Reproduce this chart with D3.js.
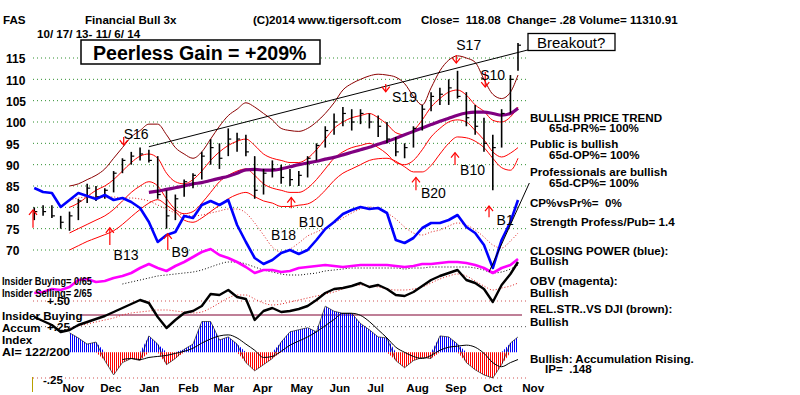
<!DOCTYPE html>
<html>
<head>
<meta charset="utf-8">
<script src="https://cdn.jsdelivr.net/npm/d3@7"></script>
<style>
body { margin: 0; background: #fff; }
svg text { font-family: Arial, "Liberation Sans", sans-serif; }
.lbl { font-weight: bold; font-size: 11.6px; fill: #000; }
.sig { font-size: 14px; fill: #000; }
</style>
</head>
<body>
<svg id="chart" width="800" height="395"></svg>
<script>
// weekly closes of FAS, 10/17/13 - 11/6/14
let weeks = ['2013-10-18','2013-10-25','2013-11-01','2013-11-08','2013-11-15','2013-11-22','2013-11-29',
    '2013-12-06','2013-12-13','2013-12-20','2013-12-27','2014-01-03','2014-01-10','2014-01-17','2014-01-24',
    '2014-01-31','2014-02-07','2014-02-14','2014-02-21','2014-02-28','2014-03-07','2014-03-14','2014-03-21',
    '2014-03-28','2014-04-04','2014-04-11','2014-04-18','2014-04-25','2014-05-02','2014-05-09','2014-05-16',
    '2014-05-23','2014-05-30','2014-06-06','2014-06-13','2014-06-20','2014-06-27','2014-07-04','2014-07-11',
    '2014-07-18','2014-07-25','2014-08-01','2014-08-08','2014-08-15','2014-08-22','2014-08-29','2014-09-05',
    '2014-09-12','2014-09-19','2014-09-26','2014-10-03','2014-10-10','2014-10-17','2014-10-24','2014-10-31','2014-11-06'];

let priceHigh = [80,80.5,80.5,78,79,82,85.5,85,84.5,88.5,91.5,93,94,93.5,92,84,83,86.5,88,93,96,95,98.5,97.5,97,92,89,91,
    90,89,88.5,92,95,99,102,103.5,103,103,102,101.5,100,96.5,95,99,104,107,108,110,112,107,104,101,97,103,111,118.5];
let priceLow = [77,78,77.5,75,74.5,77,81,81.5,82,83.5,88,90,91,90.5,82,75,77,82.5,84.5,86.5,90,89,92,93,92,82,83,87,
    85.5,85,85,87,91,94,97,99,98,99.5,98.5,96.5,95,92,91.5,94,98,102.5,104,104,105.5,99,97,93,84,94,102,112];
let priceClose = [79,79,78,76.5,78,81.5,84.5,82.5,84,88,91,92,92.5,91,83,78,82,86,87.5,92,94,91.5,96,96,93,84,88,89,
    87,86.5,87.5,91.5,94.5,98,100,102,100,102,100,99,96,93,94,98.5,103,106,106.5,108,106,101,99,95,94,102,110,118];

let ma65 = [null,null,null,null,null,null,null,null,null,null,null,null,null,83.5,83.8,84.2,84.6,85,85.5,85.8,86.3,
    86.8,87.3,88,88.8,88.9,88.7,88.7,89,89.5,90,90.4,90.8,91.3,91.7,92.3,92.9,93.5,94.1,94.8,95.4,96.2,97,97.8,98.6,
    99.4,100.2,100.9,101.6,102.1,102.3,102.3,102,101.6,102,103.2];
let maroonBand = [null,null,null,null,85,85.5,86.5,87.5,89,91.5,94,96.5,98,99.5,99.5,97,94,92.5,91.5,93,96,99,101.5,
    103,104.5,103.5,102,100.5,98.5,98,97.8,98.5,100,102,104.5,107.5,109,110,110.8,111.2,111,110.5,109,106,104,108,112,
    114.5,115.5,115,114,110,106.5,105.5,107,111];
let redUpper = [null,null,null,null,80,81,82.5,84,85,86.5,88.5,90.5,92,92.5,91.5,88,86,85.5,86.5,88.5,91,93,94.5,95.5,
    96,94.5,92.5,91.5,91,90.5,90.5,91.5,93.5,96,98.5,100,101,101.5,102,101,99.5,97.5,97,98,100.5,103.5,105.5,107,107.5,
    106.3,104,102.5,100.4,100,101.2,103.5];
let redLower = [null,null,null,null,74,75,76,77,78,79.5,81.5,83.5,85,86,85,82,79.5,78.5,79,81,83.5,86,87.5,88.5,89,
    87.5,85.5,84.5,84,83.5,83.5,84.5,86.5,89,91.5,93,94,94.5,95,94,92.5,90.5,90,91,93.5,96.5,98.5,100,100.5,100,98,
    95.8,93,91.8,92.7,94];
let redBottom = [null,null,null,null,70,71,72,72.8,73.6,74.5,76,77.8,79.5,81,81.8,80.5,79,77,76.5,77.5,79,80.5,82,83,
    83.5,82.5,81.5,81,80.2,80.2,80.5,80.8,82,84,86.3,88,89,90,91,91.4,91.5,90.8,89.5,88.3,88.3,89.8,92.5,95,96.5,96.3,
    95.5,94,91.5,89.3,88.7,91.5];

let closingPower = [87,83,82,68,75,82,79,76,80,75,77,73,67,53,33,40,43,59,57,70,74,70,75,50,33,17,11,15,22,25,21,25,
    35,46,53,61,65,68,66,67,62,35,32,37,47,52,52,55,60,48,42,30,7,35,53,75];
let closingPowerMa = [null,null,null,null,75,77,78,78,78,78,77,77,76,74,70,66,62,60,59,60,62,64,66,66,62,52,40,28,23,
    26,32,39,43,47,52,57,62,66,68,66,62,56,48,42,40,43,45,49,52,50,45,38,30,27,34,42];
let obv = [7,8,11,10,13,20,21,18,19,22,24,27,32,36,32,29,34,38,43,48,51,45,42,38,33,27,30,30,28,29,32,33,34,35,34,33,
    34,35,35,35,35,34,33,34,36,36,37,38,38,37,35,32,27,32,35,41];
let obvMa = [null,null,null,null,null,null,null,null,null,null,16,18,20,22,24,25,26,27,28,30,33,36,38,38,36,33,30,28,
    26,25,25,26,27,29,30,31,32,32,32,32,32,32,31,32,32,33,33,33,33,33,32,30,27,28,31,35];
let relStrength = [23,19,15,8,10,15,18,21,24,28,32,36,40,37,23,12,20,27,29,34,46,45,50,43,41,20,29,32,28,29,31,34,40,
    47,51,52,54,57,53,55,51,45,44,48,54,60,64,67,70,60,57,51,38,55,66,78];
let relStrengthMa = [null,null,null,null,12,14,16,18,20,22,25,27,28,29,30,30,29,28,27,28,32,37,42,45,45,41,37,35,36,
    38,40,42,44,46,48,51,54,55,54,53,51,50,50,51,53,57,61,64,66,64,59,54,50,52,54,57];
let accumIndex = [null,null,null,null,0.19,0.14,0.08,0.10,-0.08,-0.22,-0.10,-0.06,-0.08,0.16,0.08,-0.12,-0.06,0.03,
    0.08,0.30,0.30,0.12,0.15,0.08,-0.10,-0.18,-0.12,-0.06,0.10,0.20,0.22,0.24,0.20,0.45,0.40,0.38,0.38,0.28,0.22,0.15,
    0.14,-0.08,-0.15,-0.08,-0.05,-0.06,0.16,0.15,0.08,-0.10,-0.17,-0.22,-0.25,-0.12,0.09,0.15];
let accumIndexMa = [null,null,null,null,null,null,null,null,null,null,-0.07,-0.06,-0.07,-0.05,-0.04,-0.03,-0.01,0.01,
    0.04,0.09,0.13,0.16,0.17,0.14,0.08,0.02,-0.05,-0.04,0.01,0.07,0.11,0.15,0.20,0.26,0.32,0.38,0.38,0.36,0.30,0.22,
    0.14,0.05,0.00,-0.04,-0.06,-0.03,0.02,0.05,0.06,0.07,0.05,-0.01,-0.10,-0.14,-0.10,-0.07];

let priceTicks = [70, 75, 80, 85, 90, 95, 100, 105, 110, 115];

let trendDates = ['2014-01-17', '2014-11-14'];
let trendValues = [94.2, 116.9];
let cpTrendDates = ['2014-10-14', '2014-11-15'];
let cpTrendValues = [3, 92];

let arrowDates = ['2013-10-17','2013-12-17','2013-12-28','2014-02-01','2014-05-10','2014-07-24','2014-08-17',
    '2014-09-18','2014-09-17','2014-10-11','2014-10-14'];
let arrowFrom = [75.2, 71.2, 96.5, 70, 79.8, 108.9, 84, 115.7, 89.9, 111.7, 77.7];
let arrowTo = [79.4, 75.2, 94.6, 73.8, 82.3, 107.1, 87, 113.8, 92.8, 108.2, 80.3];

let signalNames = ['S16','B13','B9','B18','B10','S19','B20','S17','B10','S10','B1'];
let signalDates = ['2013-12-28','2013-12-20','2014-02-04','2014-04-24','2014-05-16','2014-07-29','2014-08-21',
    '2014-09-18','2014-09-21','2014-10-07','2014-10-20'];
let signalValues = [96.0, 67.7, 68.4, 72.3, 75.4, 104.7, 82.2, 116.9, 87.6, 109.8, 75.9];

let parseTime = d3.timeParse('%Y-%m-%d');
let dates = weeks.map(parseTime);

let svg = d3.select('#chart');

let xScale = d3.scaleTime()
    .domain([parseTime('2013-10-17'), parseTime('2014-11-06')])
    .range([33, 518]);
let yPrice = d3.scaleLinear().domain([70, 115]).range([250, 58]);
let yCP = d3.scaleLinear().domain([0, 100]).range([275, 175]);
let yOBV = d3.scaleLinear().domain([0, 60]).range([300, 240]);
let yRS = d3.scaleLinear().domain([0, 100]).range([340, 240]);
let yAI = d3.scaleLinear().domain([-0.25, 0.5]).range([378, 301]);

// stripes for the accumulation histogram
let defs = svg.append('defs');
[['blueStripe', '#0000ff'], ['redStripe', '#ff0000']].forEach(function (p) {
    defs.append('pattern')
        .attr('id', p[0])
        .attr('patternUnits', 'userSpaceOnUse')
        .attr('width', 2)
        .attr('height', 10)
        .append('rect')
        .attr('width', 1)
        .attr('height', 10)
        .attr('fill', p[1]);
});

function series(values) {
    return values.map(function (v, i) { return { date: dates[i], v: v }; });
}

function drawLine(values, yScale, color, width, dash, curve) {
    let line = d3.line()
        .defined(function (d) { return d.v != null; })
        .x(function (d) { return xScale(d.date); })
        .y(function (d) { return yScale(d.v); })
        .curve(curve || d3.curveLinear);
    let p = svg.append('path')
        .datum(series(values))
        .attr('fill', 'none')
        .attr('stroke', color)
        .attr('stroke-width', width)
        .attr('stroke-linejoin', 'round')
        .attr('d', line);
    if (dash) p.attr('stroke-dasharray', dash);
    return p;
}

// price grid
svg.append('g').selectAll('line').data(priceTicks).enter().append('line')
    .attr('x1', 33).attr('x2', 526)
    .attr('y1', function (d) { return yPrice(d); })
    .attr('y2', function (d) { return yPrice(d); })
    .attr('stroke', '#2f8f2f')
    .attr('stroke-width', 1)
    .attr('stroke-dasharray', '1,3');

// lower panel guide lines
svg.append('line').attr('x1', 33).attr('x2', 526).attr('y1', yAI(0.5)).attr('y2', yAI(0.5))
    .attr('stroke', '#d05050').attr('stroke-dasharray', '1,3');
svg.append('line').attr('x1', 33).attr('x2', 526).attr('y1', yAI(0.25)).attr('y2', yAI(0.25))
    .attr('stroke', '#555').attr('stroke-dasharray', '1,3');
svg.append('line').attr('x1', 33).attr('x2', 526).attr('y1', yAI(-0.25)).attr('y2', yAI(-0.25))
    .attr('stroke', '#d05050').attr('stroke-dasharray', '1,3');
svg.append('line').attr('x1', 80).attr('x2', 522).attr('y1', 315).attr('y2', 315)
    .attr('stroke', '#800030').attr('stroke-width', 1.2);
svg.append('line').attr('x1', 32.5).attr('x2', 32.5).attr('y1', 377).attr('y2', 392)
    .attr('stroke', '#b8a000');

let yAxis = d3.axisLeft(yPrice).tickValues(priceTicks).tickSize(0);
let yGuide = svg.append('g').call(yAxis);
yGuide.select('.domain').remove();
yGuide.selectAll('text')
    .attr('x', 6)
    .attr('dy', '0.4em')
    .attr('text-anchor', 'start')
    .attr('class', 'lbl')
    .style('font-family', 'Arial')
    .style('font-size', '12px');

let xAxis = d3.axisBottom(xScale)
    .ticks(d3.timeMonth.every(1))
    .tickFormat(d3.timeFormat('%b'))
    .tickSize(0);
let xGuide = svg.append('g').attr('transform', 'translate(0, 381)').call(xAxis);
xGuide.select('.domain').remove();
xGuide.selectAll('text')
    .attr('text-anchor', 'start')
    .attr('dx', 10)
    .attr('class', 'lbl')
    .style('font-family', 'Arial')
    .style('font-size', '11.6px');

// bands and moving average
drawLine(redBottom, yPrice, '#ff0000', 1, null, d3.curveMonotoneX);
drawLine(redLower, yPrice, '#ff0000', 1, null, d3.curveMonotoneX);
drawLine(redUpper, yPrice, '#ff0000', 1, null, d3.curveMonotoneX);
drawLine(maroonBand, yPrice, '#8b0000', 1, null, d3.curveMonotoneX);
drawLine(ma65, yPrice, '#800080', 3.2, null, d3.curveMonotoneX);

// trend line
svg.append('line')
    .attr('x1', xScale(parseTime(trendDates[0]))).attr('y1', yPrice(trendValues[0]))
    .attr('x2', xScale(parseTime(trendDates[1]))).attr('y2', yPrice(trendValues[1]))
    .attr('stroke', '#000').attr('stroke-width', 1);

// price bars
let bars = svg.append('g');
bars.selectAll('line.hl').data(dates).enter().append('line')
    .attr('class', 'hl')
    .attr('x1', function (d) { return xScale(d); })
    .attr('x2', function (d) { return xScale(d); })
    .attr('y1', function (d, i) { return yPrice(priceHigh[i]); })
    .attr('y2', function (d, i) { return yPrice(priceLow[i]); })
    .attr('stroke', '#000')
    .attr('stroke-width', 1.6);
bars.selectAll('line.cl').data(dates).enter().append('line')
    .attr('class', 'cl')
    .attr('x1', function (d) { return xScale(d); })
    .attr('x2', function (d) { return xScale(d) + 3; })
    .attr('y1', function (d, i) { return yPrice(priceClose[i]); })
    .attr('y2', function (d, i) { return yPrice(priceClose[i]); })
    .attr('stroke', '#000')
    .attr('stroke-width', 1.2);

// closing power, obv, relative strength
drawLine(closingPowerMa, yCP, '#e02020', 1, '1,2', d3.curveMonotoneX);
drawLine(closingPower, yCP, '#0000ff', 2.6);
drawLine(obvMa, yOBV, '#000', 1, '1,2', d3.curveMonotoneX);
drawLine(obv, yOBV, '#ff00ff', 2.6);
drawLine(relStrengthMa, yRS, '#e02020', 1, '1,2', d3.curveMonotoneX);
drawLine(relStrength, yRS, '#000', 2.4);

svg.append('line')
    .attr('x1', xScale(parseTime(cpTrendDates[0]))).attr('y1', yCP(cpTrendValues[0]))
    .attr('x2', xScale(parseTime(cpTrendDates[1]))).attr('y2', yCP(cpTrendValues[1]))
    .attr('stroke', '#000').attr('stroke-width', 1);

// accumulation index histogram
let aiData = series(accumIndex);
let posArea = d3.area()
    .defined(function (d) { return d.v != null; })
    .x(function (d) { return xScale(d.date); })
    .y0(yAI(0))
    .y1(function (d) { return yAI(Math.max(d.v, 0)); });
let negArea = d3.area()
    .defined(function (d) { return d.v != null; })
    .x(function (d) { return xScale(d.date); })
    .y0(yAI(0))
    .y1(function (d) { return yAI(Math.min(d.v, 0)); });
svg.append('path').datum(aiData).attr('fill', 'url(#blueStripe)').attr('d', posArea);
svg.append('path').datum(aiData).attr('fill', 'url(#redStripe)').attr('d', negArea);
let aiTop = d3.line()
    .defined(function (d) { return d.v != null; })
    .x(function (d) { return xScale(d.date); })
    .y(function (d) { return yAI(d.v); });
svg.append('path').datum(aiData).attr('fill', 'none').attr('stroke', '#000').attr('stroke-width', 0.6)
    .attr('d', aiTop);
drawLine(accumIndexMa, yAI, '#000', 1, null, d3.curveMonotoneX);

// signal arrows
let arrows = svg.append('g');
arrowDates.forEach(function (d, i) {
    let ax = xScale(parseTime(d));
    let y0 = yPrice(arrowFrom[i]);
    let y1 = yPrice(arrowTo[i]);
    let dir = y1 < y0 ? 1 : -1;
    arrows.append('line').attr('x1', ax).attr('x2', ax).attr('y1', y0).attr('y2', y1)
        .attr('stroke', '#ff0000').attr('stroke-width', 1.2);
    arrows.append('path')
        .attr('d', 'M' + (ax - 4) + ',' + (y1 + dir * 5) + 'L' + ax + ',' + y1 + 'L' + (ax + 4) + ',' + (y1 + dir * 5))
        .attr('fill', 'none').attr('stroke', '#ff0000').attr('stroke-width', 1.2);
});
svg.append('g').selectAll('text').data(signalNames).enter().append('text')
    .attr('class', 'sig')
    .attr('x', function (d, i) { return xScale(parseTime(signalDates[i])); })
    .attr('y', function (d, i) { return yPrice(signalValues[i]); })
    .text(function (d) { return d; });

// header
function txt(x, y, s, cls, size) {
    let t = svg.append('text').attr('x', x).attr('y', y).attr('class', cls || 'lbl').text(s);
    if (size) t.style('font-size', size);
    return t;
}
txt(3, 24, 'FAS');
txt(85, 24, 'Financial Bull 3x');
txt(253, 24, '(C)2014 www.tigersoft.com');
txt(421, 24, 'Close=  118.08  Change= .28 Volume= 11310.91').attr('xml:space', 'preserve');
txt(37, 38, '10/ 17/ 13- 11/ 6/ 14');

svg.append('rect').attr('x', 81).attr('y', 40).attr('width', 239).attr('height', 24)
    .attr('fill', '#fff').attr('stroke', '#000').attr('stroke-width', 1.5);
txt(93, 60, 'Peerless Gain = +209%', 'lbl', '19.6px');
svg.append('rect').attr('x', 528).attr('y', 33.5).attr('width', 87).attr('height', 17)
    .attr('fill', '#fff').attr('stroke', '#000').attr('stroke-width', 1.3);
txt(537, 48, 'Breakout?', 'sig', '15px');

// right panel
txt(530, 122, 'BULLISH PRICE TREND');
txt(549, 132, '65d-PR%= 100%');
txt(530, 148, 'Public is bullish');
txt(549, 159, '65d-OP%= 100%');
txt(530, 176, 'Professionals are bullish');
txt(549, 187, '65d-CP%= 100%');
txt(530, 207, 'CP%vsPr%=  0%').attr('xml:space', 'preserve');
txt(530, 226, 'Strength Profess/Pub= 1.4');
txt(530, 255, 'CLOSING POWER (blue):');
txt(530, 265, 'Bullish');
txt(530, 285, 'OBV (magenta):');
txt(530, 297, 'Bullish');
txt(530, 313, 'REL.STR..VS DJI (brown):');
txt(530, 326, 'Bullish');
txt(530, 363, 'Bullish: Accumulation Rising.');
txt(545, 373, 'IP=  .148').attr('xml:space', 'preserve');

// left lower panel
txt(47, 305, '+.50');
txt(47, 331, '+.25');
txt(2, 285, 'Insider Buying= 0/65').attr('textLength', 90).attr('lengthAdjust', 'spacingAndGlyphs');
txt(2, 297, 'Insider Selling= 2/65').attr('textLength', 90).attr('lengthAdjust', 'spacingAndGlyphs');
txt(2, 320, 'Insider Buying');
txt(2, 332, 'Accum');
txt(2, 344, 'Index');
txt(2, 356, 'AI= 122/200').attr('textLength', 68).attr('lengthAdjust', 'spacingAndGlyphs');
txt(43, 384, '-.25');

// bottom line, cut off by the window
txt(2, 403, '4/12 21.25  Insiders bought  25.06%   35.31 points  Public bought  18.09 points   Professional bought  14.55 points')
    .attr('xml:space', 'preserve');
</script>
</body>
</html>
